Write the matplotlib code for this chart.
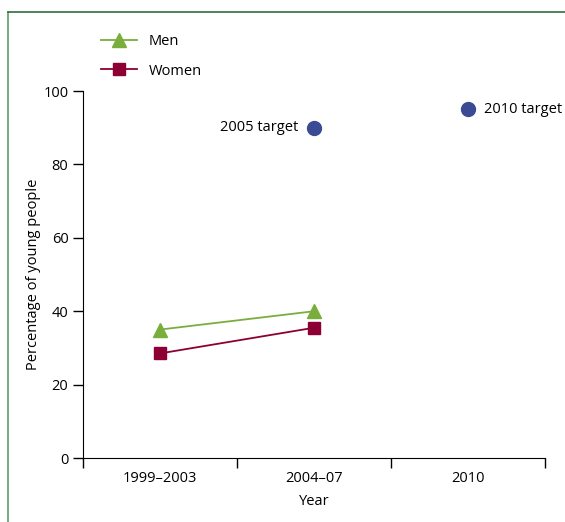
import matplotlib.pyplot as plt
from matplotlib.lines import Line2D

plt.rcParams['font.family'] = ['Open Sans', 'DejaVu Sans']

periods = ['1999–2003', '2004–07', '2010']
men = [35, 40]
women = [28.5, 35.5]
targets = [90, 95]
target_labels = ['2005 target', '2010 target']

green = '#7aae3c'
red = '#8c0034'
navy = '#3b4b93'

fig = plt.figure(figsize=(5.65, 5.22), dpi=100)
ax = fig.add_axes([0.147, 0.1226, 0.818, 0.703])

pos = [0.5, 1.5, 2.5]
ax.plot(pos[:2], men, color=green, lw=1.3, marker='^', ms=10, label='Men')
ax.plot(pos[:2], women, color=red, lw=1.3, marker='s', ms=9, label='Women')
ax.plot(pos[1:], targets, 'o', color=navy, ms=10, ls='none')
ax.text(pos[1] - 0.1, targets[0], target_labels[0], ha='right', va='center', fontsize=10.5)
ax.text(pos[2] + 0.1, targets[1], target_labels[1], ha='left', va='center', fontsize=10.5)

ax.set_xlim(0, 3)
ax.set_ylim(0, 100)
ax.set_xticks([0, 1, 2, 3])
ax.set_xticklabels([])
ax.set_xticks(pos, minor=True)
ax.set_xticklabels(periods, minor=True, fontsize=10.5)
ax.tick_params(axis='x', which='minor', length=0, pad=9)
ax.tick_params(axis='x', which='major', length=7, width=1)
ax.set_yticks([0, 20, 40, 60, 80, 100])
ax.tick_params(axis='y', length=7, width=1, labelsize=10.5)
for s in ['top', 'right']:
    ax.spines[s].set_visible(False)
ax.spines['left'].set_bounds(0, 100)
ax.set_xlabel('Year', fontsize=10.5, labelpad=6)
ax.set_ylabel('Percentage of young people', fontsize=10.5, labelpad=2)

handles = [Line2D([], [], color=green, lw=1.3, marker='^', ms=10),
           Line2D([], [], color=red, lw=1.3, marker='s', ms=9)]
fig.legend(handles, ['Men', 'Women'], loc='upper left', bbox_to_anchor=(0.155, 0.96),
           frameon=False, fontsize=10.5, handlelength=2.5, labelspacing=1.0)

fig.add_artist(Line2D([8 / 565, 8 / 565], [0, 1 - 12 / 522], color='#5a9e6a', lw=1.2))
fig.add_artist(Line2D([8 / 565, 1], [1 - 12 / 522, 1 - 12 / 522], color='#2e7040', lw=1.2))

fig.savefig('out.png', dpi=100)
